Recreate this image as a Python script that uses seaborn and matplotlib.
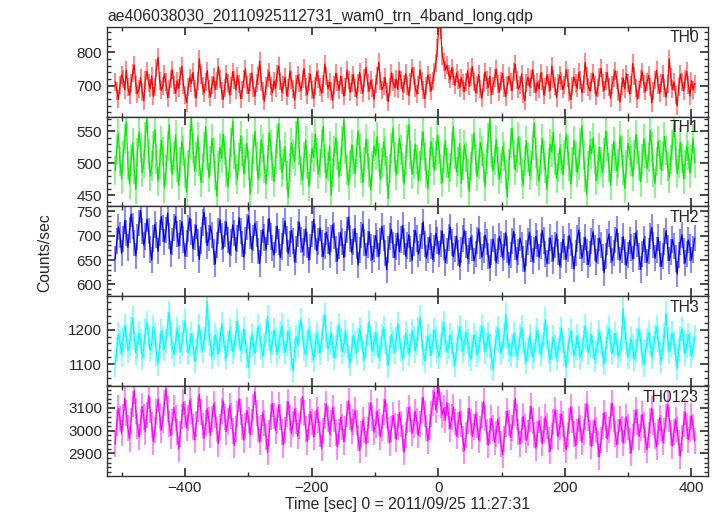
import numpy as np
import matplotlib
matplotlib.use("Agg")
import matplotlib.pyplot as plt
from matplotlib.ticker import MultipleLocator
import seaborn as sns
import pandas as pd

# light curve values, ~2.5 s bins from -510 s to 405 s
th0 = [712, 684, 659, 701, 733, 720, 688, 746, 695, 671, 708, 739, 761, 702, 676, 690, 724, 681, 655, 717,
       743, 708, 692, 729, 668, 697, 752, 785, 714, 686, 699, 735, 710, 664, 689, 721, 748, 703, 677, 715,
       692, 730, 758, 701, 673, 649, 696, 724, 707, 740, 689, 662, 715, 781, 732, 698, 679, 711, 745, 690,
       667, 703, 726, 688, 714, 757, 720, 683, 659, 694, 736, 709, 672, 699, 742, 716, 687, 730, 705, 661,
       686, 719, 750, 702, 677, 712, 738, 693, 668, 707, 729, 774, 711, 684, 653, 698, 723, 741, 700, 679,
       715, 692, 736, 760, 713, 681, 701, 726, 670, 694, 744, 717, 689, 657, 705, 731, 708, 685, 719, 752,
       697, 673, 710, 734, 688, 662, 699, 742, 721, 695, 678, 706, 765, 729, 690, 711, 683, 656, 702, 737,
       712, 686, 728, 701, 669, 695, 747, 718, 680, 707, 733, 692, 666, 709, 740, 703, 677, 722, 755, 708,
       684, 716, 693, 659, 704, 730, 771, 715, 688, 699, 725, 681, 652, 697, 738, 711, 694, 720, 689, 745,
       718, 683, 706, 737, 698, 670, 711, 754, 729, 693, 675, 702, 748, 714, 687, 661, 700, 732, 709, 684,
       715, 742, 768, 812, 902, 866, 790, 771, 748, 762, 735, 719, 753, 728, 701, 738, 716, 694, 724, 707,
       683, 712, 745, 698, 726, 757, 710, 679, 701, 734, 689, 662, 708, 741, 716, 695, 728, 673, 699, 722,
       750, 706, 681, 714, 737, 692, 667, 703, 729, 711, 685, 742, 764, 718, 690, 702, 735, 676, 655, 708,
       726, 697, 719, 748, 704, 680, 711, 690, 738, 715, 672, 696, 733, 709, 686, 759, 721, 698, 664, 707,
       731, 714, 689, 702, 747, 723, 681, 658, 699, 726, 709, 692, 740, 716, 678, 705, 770, 730, 697, 684,
       711, 738, 703, 669, 694, 727, 752, 708, 686, 713, 739, 695, 662, 701, 724, 744, 717, 680, 651, 698,
       722, 690, 736, 709, 675, 703, 767, 729, 694, 660, 688, 719, 742, 706, 683, 712, 731, 697, 648, 685,
       718, 746, 701, 677, 709, 734, 692, 666, 704, 781, 725, 689, 712, 673, 640, 697, 735, 710, 684, 720,
       743, 702, 669, 715, 688, 706]
th1 = [489, 521, 547, 503, 476, 512, 538, 565, 497, 468, 505, 532, 491, 459, 517, 549, 524, 486, 501, 542,
       570, 515, 480, 496, 528, 553, 507, 472, 499, 536, 518, 462, 490, 527, 560, 509, 483, 511, 545, 494,
       466, 502, 534, 519, 485, 455, 498, 530, 572, 524, 488, 510, 541, 503, 470, 493, 526, 557, 512, 478,
       504, 539, 516, 481, 449, 497, 525, 508, 546, 520, 487, 463, 501, 533, 566, 514, 490, 476, 509, 543,
       518, 484, 506, 531, 497, 452, 488, 522, 550, 511, 475, 500, 537, 523, 492, 468, 505, 548, 529, 495,
       471, 507, 538, 562, 513, 486, 499, 526, 481, 447, 494, 532, 515, 503, 543, 575, 521, 489, 474, 510,
       536, 498, 464, 491, 524, 509, 546, 517, 483, 500, 531, 558, 508, 477, 495, 527, 450, 486, 519, 540,
       512, 479, 503, 535, 568, 522, 490, 466, 498, 529, 506, 484, 517, 551, 525, 493, 470, 502, 538, 515,
       487, 458, 496, 527, 513, 542, 509, 476, 501, 533, 519, 488, 445, 492, 524, 555, 510, 482, 507, 539,
       521, 494, 468, 505, 537, 561, 514, 483, 499, 530, 506, 473, 496, 528, 549, 511, 485, 460, 503, 534,
       517, 489, 512, 544, 522, 491, 470, 508, 536, 501, 478, 494, 526, 558, 515, 487, 503, 531, 469, 497,
       529, 510, 484, 456, 495, 523, 547, 506, 480, 498, 533, 519, 492, 464, 507, 540, 570, 518, 488, 505,
       537, 502, 475, 493, 526, 511, 483, 448, 499, 532, 555, 514, 490, 508, 541, 520, 486, 467, 504, 535,
       509, 481, 497, 528, 563, 516, 488, 472, 506, 539, 512, 493, 459, 501, 530, 518, 549, 505, 477, 494,
       524, 507, 482, 514, 546, 521, 495, 468, 503, 536, 510, 486, 499, 532, 559, 513, 479, 452, 497, 528,
       515, 540, 506, 473, 491, 525, 502, 485, 517, 550, 527, 494, 466, 508, 534, 511, 488, 500, 543, 519,
       490, 461, 498, 531, 518, 504, 480, 513, 545, 522, 496, 471, 507, 538, 516, 492, 509, 552, 526, 487,
       469, 503, 535, 514, 489, 511, 542, 520, 495, 477, 506, 529, 564, 517, 484, 500, 533, 508, 476, 498,
       527, 512, 485, 506, 539, 501]
th2 = [652, 689, 718, 701, 664, 693, 731, 705, 676, 712, 744, 720, 685, 659, 697, 726, 752, 709, 681, 698,
       734, 710, 672, 650, 694, 723, 701, 668, 706, 739, 715, 687, 711, 746, 699, 663, 688, 717, 740, 703,
       679, 706, 729, 692, 658, 684, 715, 736, 708, 673, 697, 721, 686, 651, 690, 727, 748, 712, 680, 695,
       719, 702, 667, 642, 681, 710, 733, 698, 674, 703, 728, 691, 662, 686, 722, 705, 670, 694, 737, 709,
       683, 656, 690, 718, 741, 700, 672, 695, 726, 704, 668, 643, 685, 713, 696, 671, 707, 735, 698, 675,
       660, 692, 720, 687, 655, 678, 709, 730, 693, 664, 683, 711, 689, 646, 672, 704, 727, 691, 668, 686,
       714, 681, 650, 677, 703, 733, 697, 669, 688, 716, 684, 657, 679, 707, 690, 661, 694, 722, 699, 673,
       648, 680, 706, 688, 655, 683, 711, 738, 694, 666, 687, 715, 679, 640, 670, 701, 724, 686, 659, 682,
       708, 676, 651, 674, 700, 684, 657, 689, 719, 695, 664, 630, 672, 698, 713, 681, 655, 678, 705, 667,
       692, 721, 688, 658, 680, 702, 673, 649, 685, 711, 694, 662, 676, 700, 728, 683, 654, 671, 697, 679,
       651, 674, 705, 690, 662, 684, 709, 677, 645, 668, 696, 718, 686, 657, 673, 699, 664, 637, 671, 694,
       710, 682, 653, 669, 697, 675, 648, 663, 690, 714, 680, 656, 672, 701, 687, 659, 634, 666, 693, 676,
       645, 668, 698, 683, 655, 678, 706, 672, 640, 661, 689, 709, 677, 650, 667, 695, 681, 652, 627, 664,
       688, 707, 673, 648, 670, 699, 684, 656, 679, 711, 690, 662, 643, 668, 696, 674, 649, 681, 703, 667,
       638, 660, 692, 677, 651, 673, 700, 686, 659, 632, 665, 694, 712, 680, 654, 671, 697, 666, 641, 662,
       689, 708, 675, 646, 668, 695, 681, 655, 624, 659, 687, 703, 672, 648, 664, 691, 714, 678, 650, 670,
       698, 667, 639, 661, 690, 676, 652, 679, 706, 684, 657, 631, 663, 693, 672, 645, 668, 699, 717, 681,
       654, 671, 696, 662, 637, 658, 688, 710, 675, 649, 666, 692, 679, 653, 621, 660, 687, 702, 669, 644,
       663, 691, 676, 650, 672, 695]
th3 = [1098, 1145, 1187, 1163, 1126, 1171, 1212, 1180, 1139, 1158, 1203, 1234, 1176, 1132, 1154, 1191, 1166, 1117, 1148, 1195,
       1221, 1178, 1140, 1162, 1209, 1185, 1129, 1101, 1152, 1197, 1174, 1143, 1168, 1216, 1250, 1189, 1150, 1127, 1165, 1203,
       1179, 1136, 1158, 1194, 1227, 1170, 1133, 1155, 1188, 1162, 1108, 1141, 1183, 1211, 1167, 1138, 1173, 1206, 1284, 1192,
       1156, 1121, 1147, 1186, 1164, 1130, 1169, 1218, 1181, 1144, 1117, 1160, 1198, 1173, 1135, 1152, 1190, 1225, 1177, 1140,
       1163, 1201, 1168, 1124, 1090, 1149, 1185, 1159, 1131, 1171, 1210, 1182, 1146, 1123, 1157, 1195, 1238, 1174, 1137, 1161,
       1199, 1170, 1128, 1151, 1187, 1213, 1166, 1134, 1158, 1196, 1172, 1119, 1080, 1142, 1179, 1154, 1193, 1229, 1183, 1145,
       1127, 1164, 1200, 1176, 1139, 1112, 1155, 1188, 1162, 1131, 1170, 1207, 1244, 1181, 1143, 1160, 1192, 1153, 1118, 1149,
       1178, 1215, 1171, 1136, 1157, 1194, 1166, 1122, 1101, 1146, 1184, 1161, 1132, 1169, 1203, 1180, 1141, 1115, 1152, 1189,
       1224, 1175, 1137, 1159, 1192, 1158, 1120, 1144, 1181, 1206, 1167, 1130, 1095, 1148, 1186, 1163, 1134, 1172, 1218, 1179,
       1142, 1116, 1151, 1190, 1168, 1129, 1156, 1197, 1173, 1138, 1160, 1201, 1236, 1176, 1133, 1110, 1147, 1183, 1157, 1124,
       1163, 1199, 1175, 1139, 1121, 1154, 1191, 1220, 1169, 1135, 1150, 1185, 1161, 1127, 1096, 1144, 1180, 1208, 1172, 1137,
       1158, 1194, 1167, 1130, 1114, 1149, 1186, 1162, 1126, 1143, 1178, 1211, 1171, 1136, 1155, 1189, 1154, 1118, 1085, 1140,
       1176, 1205, 1166, 1132, 1150, 1184, 1245, 1180, 1141, 1125, 1153, 1188, 1159, 1122, 1146, 1181, 1207, 1168, 1131, 1107,
       1145, 1182, 1156, 1120, 1139, 1174, 1198, 1164, 1128, 1151, 1186, 1230, 1177, 1135, 1112, 1148, 1179, 1152, 1117, 1142,
       1173, 1202, 1165, 1129, 1091, 1137, 1170, 1196, 1160, 1124, 1147, 1183, 1157, 1119, 1140, 1176, 1212, 1171, 1133, 1154,
       1187, 1150, 1113, 1136, 1168, 1193, 1163, 1127, 1102, 1145, 1178, 1204, 1166, 1131, 1155, 1189, 1160, 1123, 1141, 1175,
       1261, 1197, 1158, 1121, 1143, 1172, 1149, 1115, 1138, 1169, 1201, 1164, 1126, 1098, 1134, 1167, 1192, 1157, 1120, 1146,
       1180, 1209, 1170, 1132, 1110, 1151, 1185, 1248, 1174, 1136, 1156, 1190, 1161, 1125, 1088, 1142, 1177, 1203, 1165, 1129,
       1153, 1186, 1158, 1122, 1147, 1179]
th0123 = [2940, 3035, 3098, 3052, 2988, 3061, 3142, 3079, 3010, 2965, 3044, 3117, 3176, 3085, 3021, 2972, 3038, 3106, 3058, 2995,
          3070, 3153, 3092, 3024, 2951, 3003, 3081, 3139, 3066, 3001, 3048, 3120, 3185, 3097, 3030, 2978, 3040, 3101, 3055, 2992,
          2920, 2985, 3062, 3124, 3071, 3012, 3057, 3133, 3088, 3017, 2960, 3027, 3094, 3160, 3080, 3019, 2969, 3033, 3096, 3045,
          2980, 3052, 3118, 3070, 3005, 2943, 3014, 3087, 3131, 3060, 2996, 3041, 3109, 3066, 2999, 2935, 3006, 3073, 3140, 3082,
          3015, 2958, 3022, 3090, 3046, 2982, 3038, 3103, 3171, 3077, 3008, 2949, 3011, 3078, 3035, 2970, 2905, 2990, 3059, 3119,
          3064, 3000, 3043, 3112, 3058, 2993, 2938, 3004, 3072, 3127, 3055, 2987, 3031, 3095, 3041, 2975, 3019, 3085, 3149, 3076,
          3009, 2952, 3016, 3083, 3037, 2971, 3028, 3091, 3045, 2983, 2922, 2997, 3063, 3116, 3050, 2986, 3034, 3100, 3052, 2989,
          2930, 2995, 3058, 3014, 2951, 3006, 3075, 3130, 3061, 2998, 3040, 3089, 3032, 2968, 2913, 2984, 3047, 3004, 2942, 3001,
          3069, 3121, 3057, 2993, 3026, 3086, 3036, 2973, 3012, 3080, 3137, 3066, 3003, 2947, 3009, 3067, 3021, 2962, 3018, 3079,
          3030, 2966, 2905, 2982, 3048, 3101, 3049, 2988, 3023, 3084, 3041, 2979, 3027, 3092, 3146, 3073, 3011, 2955, 3015, 3071,
          3120, 3168, 3090, 3135, 3182, 3114, 3070, 3098, 3047, 3123, 3066, 3008, 3059, 3104, 3039, 2976, 3025, 3083, 3029, 2964,
          2912, 2980, 3044, 3097, 3038, 2975, 3017, 3072, 3024, 2960, 3006, 3068, 3128, 3057, 2994, 2938, 2999, 3054, 3010, 2948,
          2986, 3049, 3002, 2941, 2894, 2965, 3031, 3085, 3033, 2970, 3012, 3076, 3142, 3060, 2996, 2940, 3001, 3063, 3018, 2957,
          2991, 3052, 3106, 3043, 2980, 2923, 2987, 3045, 3007, 2944, 2998, 3061, 3020, 2959, 2910, 2978, 3039, 3092, 3034, 2972,
          3014, 3074, 3027, 2963, 2915, 2983, 3041, 3105, 3048, 2985, 2933, 2992, 3053, 3011, 2950, 2996, 3058, 3118, 3055, 2990,
          2931, 2989, 3046, 3003, 2942, 2885, 2958, 3019, 3078, 3024, 2964, 3002, 3064, 3121, 3051, 2987, 2937, 2995, 3050, 3008,
          2946, 2999, 3060, 3015, 2953, 2902, 2971, 3033, 3089, 3036, 2974, 3013, 3071, 3025, 2961, 2916, 2982, 3042, 3097, 3039,
          2976, 2929, 2993, 3057, 3012, 2949, 2997, 3062, 3115, 3053, 2988, 2934, 2994, 3048, 3005, 2944, 2889, 2967, 3028, 3080,
          3021, 2960, 3006, 3066, 3017, 2955]

bands = ["TH0", "TH1", "TH2", "TH3", "TH0123"]
series = [th0, th1, th2, th3, th0123]
errors = [27, 23, 27, 35, 57]
colors = ["#ff0000", "#00ee00", "#0000ee", "#00ffff", "#ff00ff"]
ylims = [(607, 877), (433, 573), (576, 760), (1036, 1298), (2802, 3196)]
majors = [100, 50, 50, 100, 100]
minors = [20, 10, 10, 20, 20]

sns.set_theme(style="ticks")
plt.rcParams["font.family"] = ["Liberation Sans", "DejaVu Sans"]

fig, axes = plt.subplots(5, 1, figsize=(7.18, 5.16), dpi=100, sharex=True)
fig.subplots_adjust(left=0.149, right=0.986, top=0.948, bottom=0.078, hspace=0)

for ax, name, vals, err, col, yl, mj, mn in zip(axes, bands, series, errors, colors, ylims, majors, minors):
    vals = np.array(vals, dtype=float)
    t = np.linspace(-510, 405, len(vals))
    df = pd.DataFrame({"t": t, "rate": vals})
    ax.vlines(df["t"], df["rate"] - err, df["rate"] + err, color=col, alpha=0.45, linewidth=1.5)
    sns.lineplot(data=df, x="t", y="rate", ax=ax, color=col, linewidth=0.9)
    ax.set_xlim(-523, 426)
    ax.set_ylim(*yl)
    ax.yaxis.set_major_locator(MultipleLocator(mj))
    ax.yaxis.set_minor_locator(MultipleLocator(mn))
    ax.xaxis.set_major_locator(MultipleLocator(200))
    ax.xaxis.set_minor_locator(MultipleLocator(100))
    ax.tick_params(which="both", direction="in", top=True, right=True, labelsize=11, color="#333333")
    ax.tick_params(which="major", length=6)
    ax.tick_params(which="minor", length=3)
    ax.set_xlabel("")
    ax.set_ylabel("")
    for s in ax.spines.values():
        s.set_color("#333333")
        s.set_linewidth(1.0)
    ax.text(0.985, 0.96, name, transform=ax.transAxes, ha="right", va="top", fontsize=11.3)

axes[0].set_title("ae406038030_20110925112731_wam0_trn_4band_long.qdp", loc="left", fontsize=11.3, pad=4)
axes[-1].set_xlabel("Time [sec] 0 = 2011/09/25 11:27:31", fontsize=11.3, labelpad=2)
fig.text(0.062, 0.51, "Counts/sec", rotation=90, ha="center", va="center", fontsize=11.3)

fig.savefig("out.png", dpi=100)
